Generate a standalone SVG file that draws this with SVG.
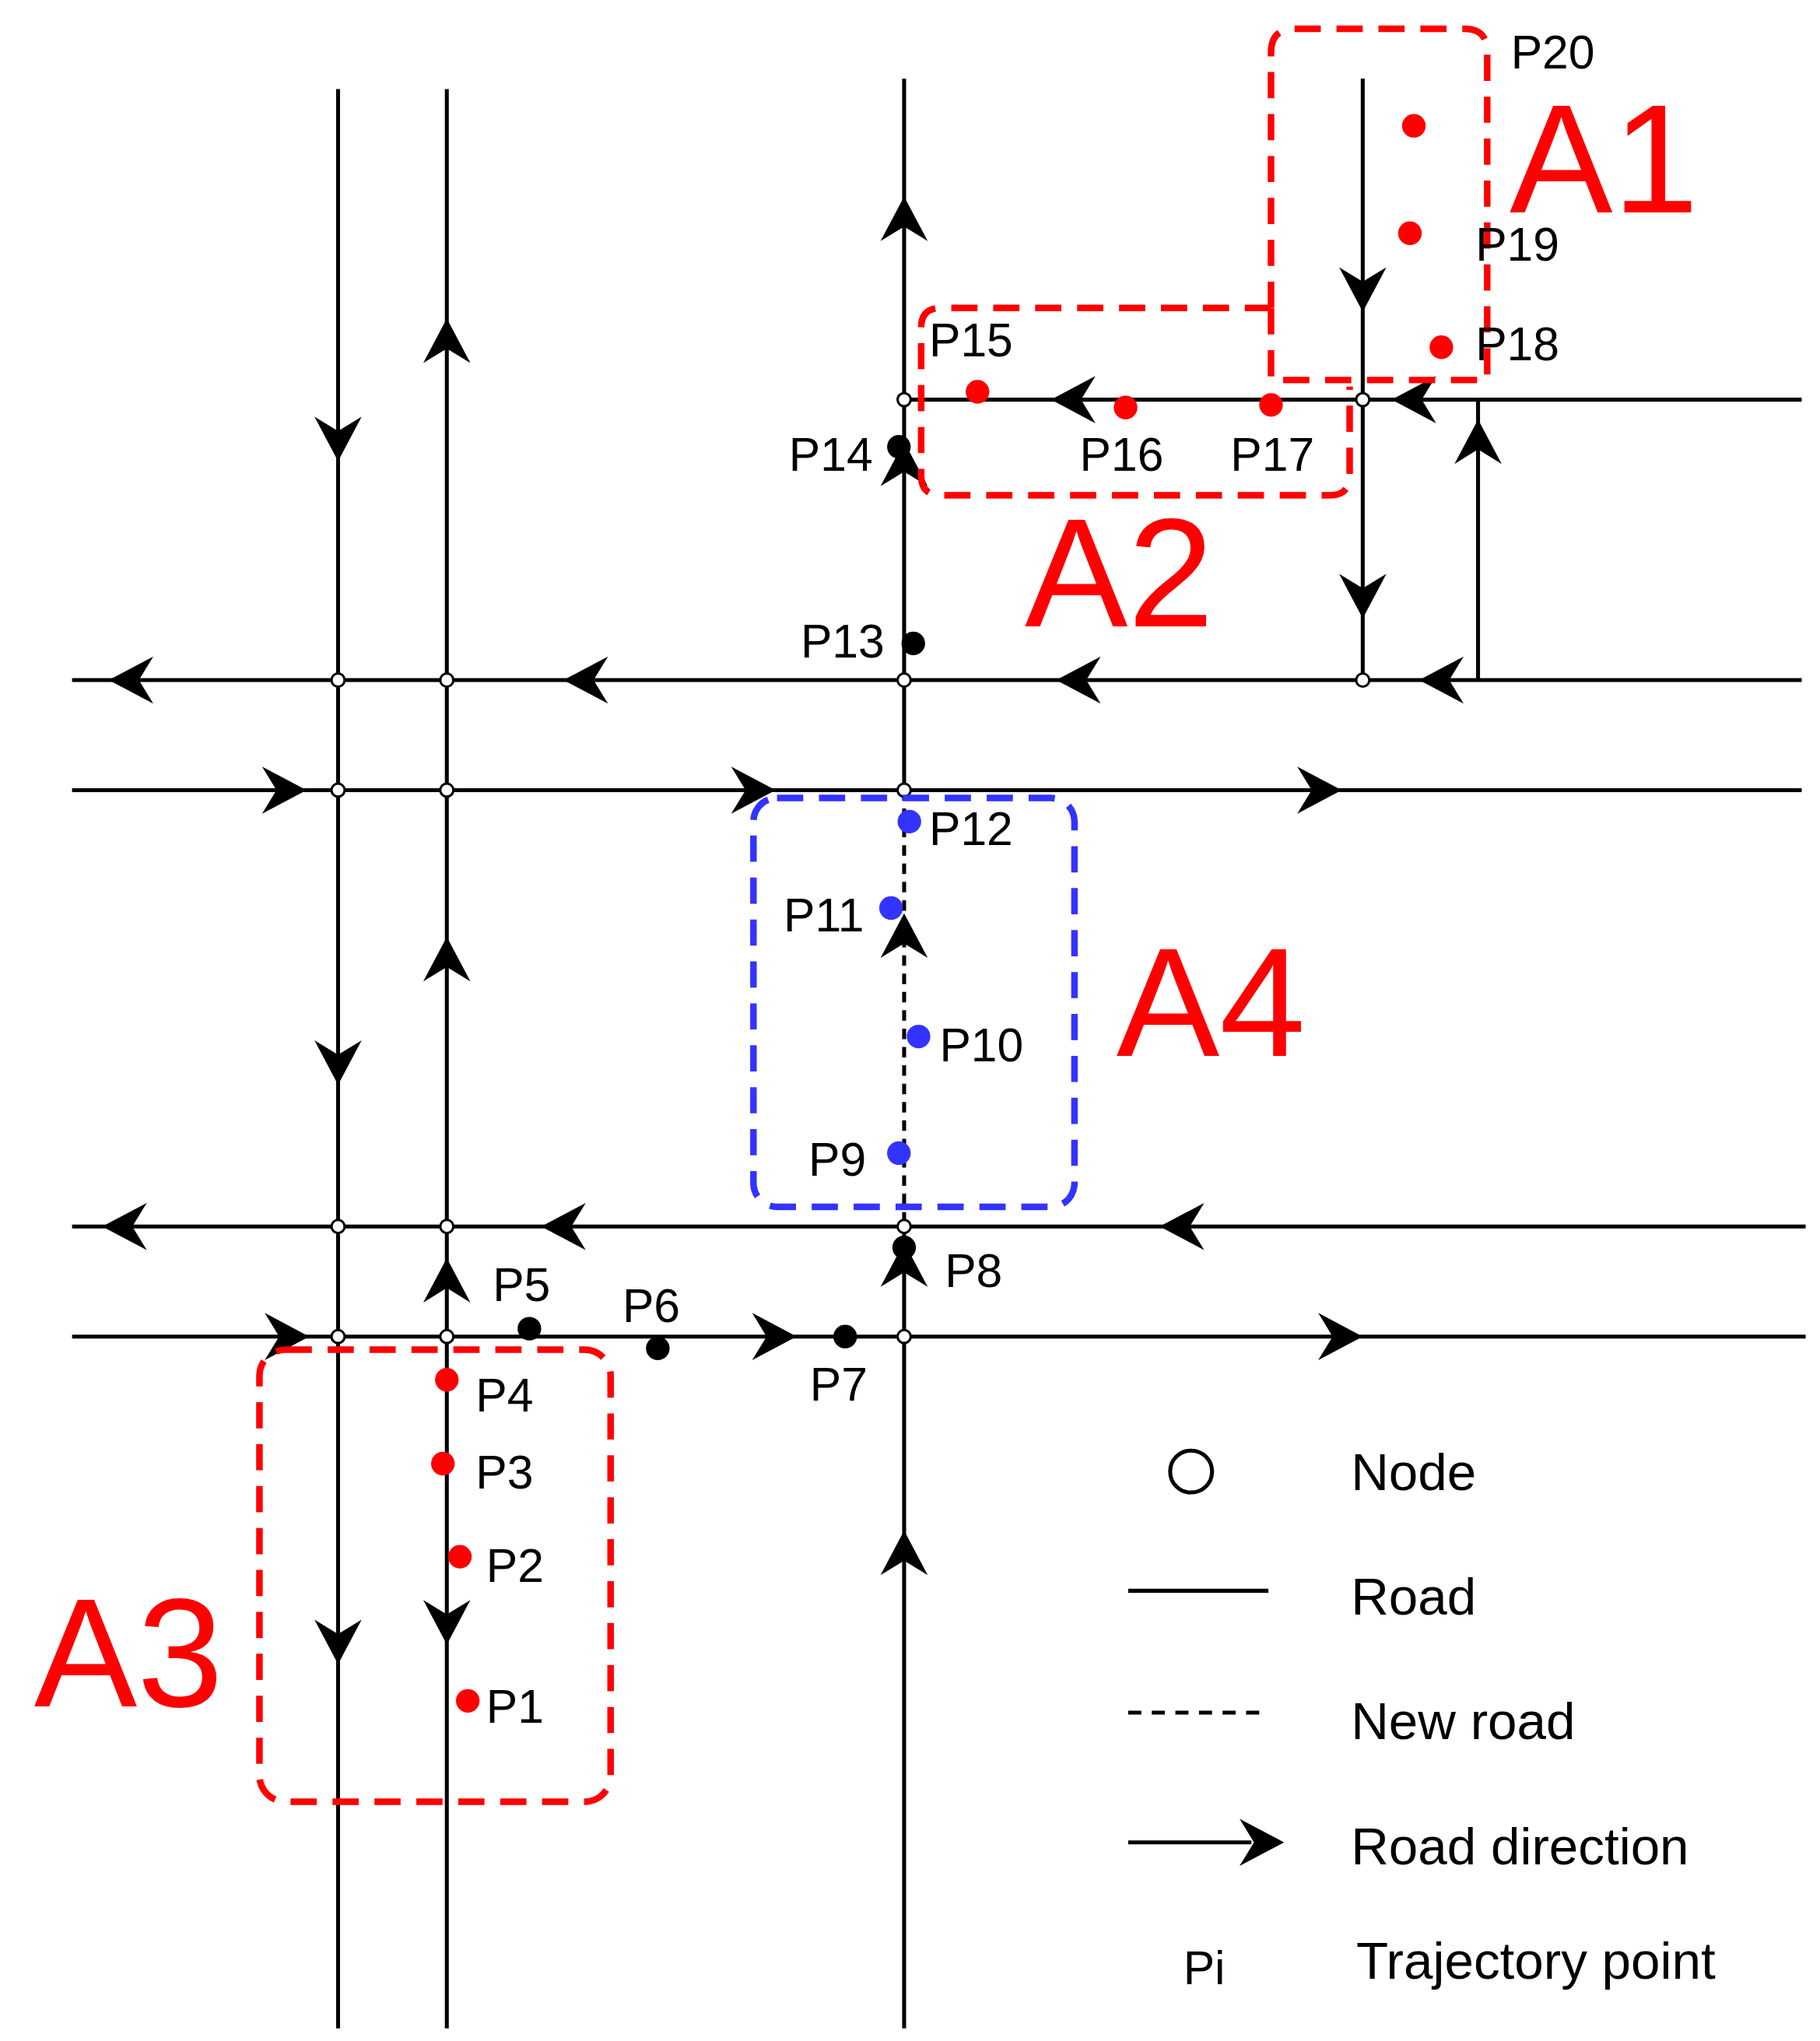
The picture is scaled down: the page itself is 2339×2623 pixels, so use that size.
<svg xmlns="http://www.w3.org/2000/svg" xmlns:xlink="http://www.w3.org/1999/xlink" width="2339" height="2623" viewBox="0 0 2339 2623">
<style>
.rd{stroke:#000;stroke-width:3;fill:none}
.nd{fill:#fff;stroke:#000;stroke-width:1.8}
.lb{font-family:"Liberation Sans",Arial,sans-serif;font-size:36px;fill:#000}
.big{font-family:"Liberation Sans",Arial,sans-serif;font-size:118px;fill:#f00}
.rb{stroke:#f00;stroke-width:5;fill:none;stroke-dasharray:20,12}
.bb{stroke:#33f;stroke-width:5;fill:none;stroke-dasharray:20,12}
.r{fill:#f00}.b{fill:#33f}.k{fill:#000}
</style>
<defs><path id="ah" d="M0,0 L-34,-18 L-23,0 L-34,18Z" fill="#000"/></defs>
<rect width="2339" height="2623" fill="#fff"/>
<g transform="scale(1.684)">
<g id="connectors">
<path class="rd" d="M258,68V1548M341,68V1548M690,60V603M690,936V1548M1040,60V519M1128,305V519M690,305H1375M55,519H1375M55,603H1375M55,936H1378M55,1020H1378"/>
<path d="M690,603V936" stroke="#000" stroke-width="3" stroke-dasharray="8,6"/>
<use xlink:href="#ah" transform="translate(258,352) rotate(90)"/>
<use xlink:href="#ah" transform="translate(258,828) rotate(90)"/>
<use xlink:href="#ah" transform="translate(258,1270) rotate(90)"/>
<use xlink:href="#ah" transform="translate(341,243) rotate(-90)"/>
<use xlink:href="#ah" transform="translate(341,715) rotate(-90)"/>
<use xlink:href="#ah" transform="translate(341,960) rotate(-90)"/>
<use xlink:href="#ah" transform="translate(341,1255) rotate(90)"/>
<use xlink:href="#ah" transform="translate(690,150) rotate(-90)"/>
<use xlink:href="#ah" transform="translate(690,337) rotate(-90)"/>
<use xlink:href="#ah" transform="translate(690,697) rotate(-90)"/>
<use xlink:href="#ah" transform="translate(690,948) rotate(-90)"/>
<use xlink:href="#ah" transform="translate(690,1168) rotate(-90)"/>
<use xlink:href="#ah" transform="translate(1040,238) rotate(90)"/>
<use xlink:href="#ah" transform="translate(1040,472) rotate(90)"/>
<use xlink:href="#ah" transform="translate(1128,320) rotate(-90)"/>
<use xlink:href="#ah" transform="translate(802,305) rotate(180)"/>
<use xlink:href="#ah" transform="translate(1062,305) rotate(180)"/>
<use xlink:href="#ah" transform="translate(83,519) rotate(180)"/>
<use xlink:href="#ah" transform="translate(430,519) rotate(180)"/>
<use xlink:href="#ah" transform="translate(806,519) rotate(180)"/>
<use xlink:href="#ah" transform="translate(1083,519) rotate(180)"/>
<use xlink:href="#ah" transform="translate(234,603)"/>
<use xlink:href="#ah" transform="translate(592,603)"/>
<use xlink:href="#ah" transform="translate(1024,603)"/>
<use xlink:href="#ah" transform="translate(78,936) rotate(180)"/>
<use xlink:href="#ah" transform="translate(413,936) rotate(180)"/>
<use xlink:href="#ah" transform="translate(885,936) rotate(180)"/>
<use xlink:href="#ah" transform="translate(236,1020)"/>
<use xlink:href="#ah" transform="translate(608,1020)"/>
<use xlink:href="#ah" transform="translate(1040,1020)"/>
</g>
<g id="nodes">
<circle class="nd" cx="690" cy="305" r="5"/><circle class="nd" cx="1040" cy="305" r="5"/>
<circle class="nd" cx="258" cy="519" r="5"/><circle class="nd" cx="341" cy="519" r="5"/><circle class="nd" cx="690" cy="519" r="5"/><circle class="nd" cx="1040" cy="519" r="5"/>
<circle class="nd" cx="258" cy="603" r="5"/><circle class="nd" cx="341" cy="603" r="5"/><circle class="nd" cx="690" cy="603" r="5"/>
<circle class="nd" cx="258" cy="936" r="5"/><circle class="nd" cx="341" cy="936" r="5"/><circle class="nd" cx="690" cy="936" r="5"/>
<circle class="nd" cx="258" cy="1020" r="5"/><circle class="nd" cx="341" cy="1020" r="5"/><circle class="nd" cx="690" cy="1020" r="5"/>
</g>
<g id="areas">
<path class="rb" d="M970,235V40Q970,22 988,22H1118Q1135,22 1135,40V290H970V235"/>
<path class="rb" d="M970,235H718Q703,235 703,250V363Q703,378 718,378H1015Q1030,378 1030,363V295"/>
<rect class="bb" x="575" y="609" width="245" height="312" rx="18"/>
<rect class="rb" x="198" y="1030" width="268" height="345" rx="20"/>
<text class="big" x="1152" y="162">A1</text>
<text class="big" x="782" y="478">A2</text>
<text class="big" x="26" y="1302">A3</text>
<text class="big" x="852" y="806">A4</text>
</g>
<g id="points">
<circle class="r" cx="1079" cy="96" r="9"/><circle class="r" cx="1076" cy="178" r="9"/><circle class="r" cx="1100" cy="265" r="9"/>
<circle class="r" cx="746" cy="299" r="9"/><circle class="r" cx="859" cy="311" r="9"/><circle class="r" cx="970" cy="309" r="9"/>
<circle class="r" cx="341" cy="1053" r="9"/><circle class="r" cx="338" cy="1117" r="9"/><circle class="r" cx="351" cy="1188" r="9"/><circle class="r" cx="357" cy="1298" r="9"/>
<circle class="k" cx="686" cy="341" r="9"/><circle class="k" cx="697" cy="491" r="9"/><circle class="k" cx="404" cy="1014" r="9"/><circle class="k" cx="502" cy="1029" r="9"/><circle class="k" cx="645" cy="1020" r="9"/><circle class="k" cx="690" cy="952" r="9"/>
<circle class="b" cx="694" cy="627" r="9"/><circle class="b" cx="680" cy="693" r="9"/><circle class="b" cx="701" cy="791" r="9"/><circle class="b" cx="686" cy="880" r="9"/>
<text class="lb" x="1153" y="52">P20</text><text class="lb" x="1126" y="199">P19</text><text class="lb" x="1126" y="275">P18</text>
<text class="lb" x="709" y="272">P15</text><text class="lb" x="602" y="359">P14</text><text class="lb" x="824" y="359">P16</text><text class="lb" x="939" y="359">P17</text>
<text class="lb" x="611" y="502">P13</text><text class="lb" x="709" y="645">P12</text><text class="lb" x="598" y="711">P11</text><text class="lb" x="717" y="810">P10</text><text class="lb" x="617" y="897">P9</text>
<text class="lb" x="721" y="982">P8</text><text class="lb" x="376" y="993">P5</text><text class="lb" x="475" y="1009">P6</text><text class="lb" x="618" y="1069">P7</text>
<text class="lb" x="363" y="1077">P4</text><text class="lb" x="363" y="1136">P3</text><text class="lb" x="371" y="1207">P2</text><text class="lb" x="371" y="1315">P1</text>
</g>
<g id="legend">
<circle cx="909" cy="1123" r="16" fill="none" stroke="#000" stroke-width="3"/>
<path class="rd" d="M861,1214H968M861,1406H955"/>
<path d="M861,1307H968" stroke="#000" stroke-width="3" stroke-dasharray="10,8"/>
<use xlink:href="#ah" transform="translate(980,1406)"/>
<text class="lb" x="1031" y="1137" font-size="40" style="font-size:40px">Node</text>
<text class="lb" x="1031" y="1232" style="font-size:40px">Road</text>
<text class="lb" x="1031" y="1327" style="font-size:40px">New road</text>
<text class="lb" x="1031" y="1423" style="font-size:40px">Road direction</text>
<text class="lb" x="903" y="1514">Pi</text>
<text class="lb" x="1035" y="1510" style="font-size:40px">Trajectory point</text>
</g>
</g>
</svg>
